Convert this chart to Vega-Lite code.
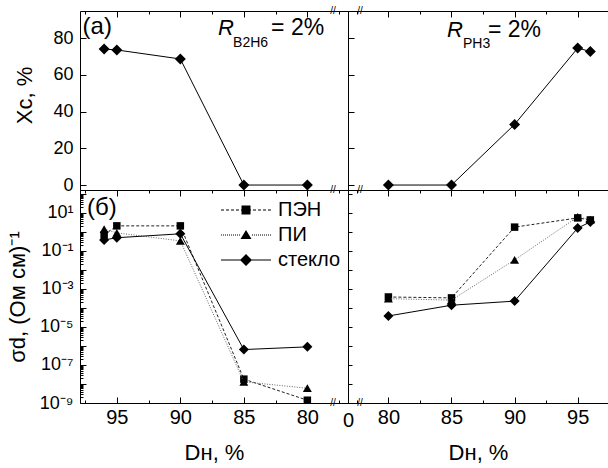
{
  "$schema": "https://vega.github.io/schema/vega-lite/v6.json",
  "background": "white",
  "padding": {"left": 5, "top": 5, "right": 0, "bottom": 0},
  "datasets": {
    "xc": [
      {"gas": "B2H6", "D": 96, "X": 74},
      {"gas": "B2H6", "D": 95, "X": 73.5},
      {"gas": "B2H6", "D": 90, "X": 68.6},
      {"gas": "B2H6", "D": 85, "X": 0},
      {"gas": "B2H6", "D": 80, "X": 0},
      {"gas": "PH3", "D": 80, "X": 0},
      {"gas": "PH3", "D": 85, "X": 0},
      {"gas": "PH3", "D": 90, "X": 33},
      {"gas": "PH3", "D": 95, "X": 74.5},
      {"gas": "PH3", "D": 96, "X": 72.7}
    ],
    "sig": [
      {"gas": "B2H6", "sub": "ПЭН", "D": 96, "s": 0.7},
      {"gas": "B2H6", "sub": "ПЭН", "D": 95, "s": 2.1},
      {"gas": "B2H6", "sub": "ПЭН", "D": 90, "s": 2.1},
      {"gas": "B2H6", "sub": "ПЭН", "D": 85, "s": 1.8e-8},
      {"gas": "B2H6", "sub": "ПЭН", "D": 80, "s": 1.4e-9},
      {"gas": "B2H6", "sub": "ПИ", "D": 96, "s": 1.4},
      {"gas": "B2H6", "sub": "ПИ", "D": 95, "s": 0.9},
      {"gas": "B2H6", "sub": "ПИ", "D": 90, "s": 0.34},
      {"gas": "B2H6", "sub": "ПИ", "D": 85, "s": 1.3e-8},
      {"gas": "B2H6", "sub": "ПИ", "D": 80, "s": 6e-9},
      {"gas": "B2H6", "sub": "стекло", "D": 96, "s": 0.38},
      {"gas": "B2H6", "sub": "стекло", "D": 95, "s": 0.5},
      {"gas": "B2H6", "sub": "стекло", "D": 90, "s": 0.8},
      {"gas": "B2H6", "sub": "стекло", "D": 85, "s": 6.5e-7},
      {"gas": "B2H6", "sub": "стекло", "D": 80, "s": 9e-7},
      {"gas": "PH3", "sub": "ПЭН", "D": 80, "s": 3.8e-4},
      {"gas": "PH3", "sub": "ПЭН", "D": 85, "s": 3.4e-4},
      {"gas": "PH3", "sub": "ПЭН", "D": 90, "s": 1.8},
      {"gas": "PH3", "sub": "ПЭН", "D": 95, "s": 5.5},
      {"gas": "PH3", "sub": "ПЭН", "D": 96, "s": 4.3},
      {"gas": "PH3", "sub": "ПИ", "D": 80, "s": 3.1e-4},
      {"gas": "PH3", "sub": "ПИ", "D": 85, "s": 2.6e-4},
      {"gas": "PH3", "sub": "ПИ", "D": 90, "s": 0.034},
      {"gas": "PH3", "sub": "ПИ", "D": 95, "s": 6.2},
      {"gas": "PH3", "sub": "ПИ", "D": 96, "s": 4.5},
      {"gas": "PH3", "sub": "стекло", "D": 80, "s": 3.8e-5},
      {"gas": "PH3", "sub": "стекло", "D": 85, "s": 1.4e-4},
      {"gas": "PH3", "sub": "стекло", "D": 90, "s": 2.3e-4},
      {"gas": "PH3", "sub": "стекло", "D": 95, "s": 1.6},
      {"gas": "PH3", "sub": "стекло", "D": 96, "s": 3.4}
    ]
  },
  "config": {
    "view": {"stroke": "black", "strokeWidth": 1},
    "font": "Liberation Sans",
    "axis": {
      "domain": false, "grid": false, "tickColor": "black", "labelColor": "black", "titleColor": "black",
      "labelFont": "Liberation Sans", "titleFont": "Liberation Sans", "titleFontWeight": "normal",
      "labelFlush": false, "labelOverlap": false, "tickWidth": 1
    },
    "text": {"font": "Liberation Sans", "color": "black"},
    "legend": {"labelFont": "Liberation Sans", "labelColor": "black"}
  },
  "columns": 2,
  "spacing": 0,
  "bounds": "flush",
  "concat": [
    {
      "width": 268, "height": 179,
      "data": {"name": "xc"},
      "transform": [{"filter": "datum.gas === 'B2H6'"}],
      "resolve": {"axis": {"x": "independent"}},
      "layer": [
        {
          "mark": {"type": "line", "color": "black", "strokeWidth": 1, "point": {"shape": "diamond", "filled": true, "size": 121, "color": "black", "opacity": 1}},
          "encoding": {
            "x": {"field": "D", "type": "quantitative", "scale": {"domain": [76.8, 97.9], "reverse": true, "nice": false, "zero": false},
              "axis": {"orient": "bottom", "values": [97.5, 95, 92.5, 90, 87.5, 85, 82.5, 80, 77.5], "labels": false, "title": null,
                "tickSize": {"condition": {"test": "datum.value % 5 === 0", "value": 6}, "value": 3}}},
            "y": {"field": "X", "type": "quantitative", "scale": {"domain": [-2.7, 94.7], "nice": false, "zero": false},
              "axis": {"values": [0, 10, 20, 30, 40, 50, 60, 70, 80, 90], "labelExpr": "datum.value % 20 === 0 ? datum.label : ''",
                "tickSize": {"condition": {"test": "datum.value % 20 === 0", "value": -6}, "value": -3},
                "labelFontSize": 18, "labelPadding": 13, "title": "Xc, %", "titleFontSize": 22, "titlePadding": 16, "titleY": 84}}
          }
        },
        {
          "mark": {"type": "point", "opacity": 0},
          "encoding": {
            "x": {"field": "D", "type": "quantitative",
              "axis": {"orient": "top", "values": [97.5, 95, 92.5, 90, 87.5, 85, 82.5, 80, 77.5], "labels": false, "title": null,
                "tickSize": {"condition": {"test": "datum.value % 5 === 0", "value": -6}, "value": -3}}},
            "y": {"field": "X", "type": "quantitative"}
          }
        },
        {
          "data": {"values": [{}]},
          "mark": {"type": "text", "align": "left", "baseline": "alphabetic", "fontSize": 24},
          "encoding": {"x": {"datum": 97.7, "axis": null}, "y": {"datum": 82}, "text": {"value": "(a)"}}
        },
        {
          "data": {"values": [{}]},
          "mark": {"type": "text", "align": "left", "baseline": "alphabetic", "fontSize": 22, "fontStyle": "italic"},
          "encoding": {"x": {"datum": 87.03, "axis": null}, "y": {"datum": 81.6}, "text": {"value": "R"}}
        },
        {
          "data": {"values": [{}]},
          "mark": {"type": "text", "align": "left", "baseline": "alphabetic", "fontSize": 14, "dx": 15, "dy": 12},
          "encoding": {"x": {"datum": 87.03, "axis": null}, "y": {"datum": 81.6}, "text": {"value": "B2H6"}}
        },
        {
          "data": {"values": [{}]},
          "mark": {"type": "text", "align": "left", "baseline": "alphabetic", "fontSize": 23, "dx": 53},
          "encoding": {"x": {"datum": 87.03, "axis": null}, "y": {"datum": 81.6}, "text": {"value": "= 2%"}}
        },
        {
          "data": {"values": [{}]},
          "mark": {"type": "text", "align": "center", "baseline": "middle", "fontSize": 10},
          "encoding": {"x": {"datum": 77.98, "axis": null}, "y": {"datum": 94.7}, "text": {"value": "//"}}
        },
        {
          "data": {"values": [{}]},
          "mark": {"type": "text", "align": "center", "baseline": "middle", "fontSize": 10},
          "encoding": {"x": {"datum": 77.98, "axis": null}, "y": {"datum": -2.7}, "text": {"value": "//"}}
        }
      ]
    },
    {
      "width": 260, "height": 179,
      "data": {"name": "xc"},
      "transform": [{"filter": "datum.gas === 'PH3'"}],
      "resolve": {"axis": {"x": "independent"}},
      "layer": [
        {
          "mark": {"type": "line", "color": "black", "strokeWidth": 1, "point": {"shape": "diamond", "filled": true, "size": 121, "color": "black", "opacity": 1}},
          "encoding": {
            "x": {"field": "D", "type": "quantitative", "scale": {"domain": [76.8, 97.4], "nice": false, "zero": false},
              "axis": {"orient": "bottom", "values": [77.5, 80, 82.5, 85, 87.5, 90, 92.5, 95], "labels": false, "title": null,
                "tickSize": {"condition": {"test": "datum.value % 5 === 0", "value": 6}, "value": 3}}},
            "y": {"field": "X", "type": "quantitative", "scale": {"domain": [-2.7, 94.7], "nice": false, "zero": false},
              "axis": {"values": [0, 10, 20, 30, 40, 50, 60, 70, 80, 90], "labels": false, "title": null,
                "tickSize": {"condition": {"test": "datum.value % 20 === 0", "value": -6}, "value": -3}}}
          }
        },
        {
          "mark": {"type": "point", "opacity": 0},
          "encoding": {
            "x": {"field": "D", "type": "quantitative",
              "axis": {"orient": "top", "values": [77.5, 80, 82.5, 85, 87.5, 90, 92.5, 95], "labels": false, "title": null,
                "tickSize": {"condition": {"test": "datum.value % 5 === 0", "value": -6}, "value": -3}}},
            "y": {"field": "X", "type": "quantitative"}
          }
        },
        {
          "data": {"values": [{}]},
          "mark": {"type": "text", "align": "left", "baseline": "alphabetic", "fontSize": 22, "fontStyle": "italic"},
          "encoding": {"x": {"datum": 84.64, "axis": null}, "y": {"datum": 80.5}, "text": {"value": "R"}}
        },
        {
          "data": {"values": [{}]},
          "mark": {"type": "text", "align": "left", "baseline": "alphabetic", "fontSize": 14, "dx": 16, "dy": 11},
          "encoding": {"x": {"datum": 84.64, "axis": null}, "y": {"datum": 80.5}, "text": {"value": "PH3"}}
        },
        {
          "data": {"values": [{}]},
          "mark": {"type": "text", "align": "left", "baseline": "alphabetic", "fontSize": 23, "dx": 41},
          "encoding": {"x": {"datum": 84.64, "axis": null}, "y": {"datum": 80.5}, "text": {"value": "= 2%"}}
        },
        {
          "data": {"values": [{}]},
          "mark": {"type": "text", "align": "center", "baseline": "middle", "fontSize": 10},
          "encoding": {"x": {"datum": 77.75, "axis": null}, "y": {"datum": 94.7}, "text": {"value": "//"}}
        },
        {
          "data": {"values": [{}]},
          "mark": {"type": "text", "align": "center", "baseline": "middle", "fontSize": 10},
          "encoding": {"x": {"datum": 77.75, "axis": null}, "y": {"datum": -2.7}, "text": {"value": "//"}}
        }
      ]
    },
    {
      "width": 268, "height": 213,
      "data": {"name": "sig"},
      "transform": [{"filter": "datum.gas === 'B2H6'"}],
      "resolve": {"axis": {"x": "independent", "y": "independent"}},
      "layer": [
        {
          "transform": [{"filter": "datum.sub === 'ПЭН'"}],
          "mark": {"type": "line", "color": "#222222", "strokeWidth": 1, "strokeDash": [3, 2], "point": {"shape": "square", "filled": true, "size": 56, "color": "black", "opacity": 1}},
          "encoding": {
            "x": {"field": "D", "type": "quantitative", "scale": {"domain": [76.8, 97.9], "reverse": true, "nice": false, "zero": false},
              "axis": {"orient": "bottom", "values": [97.5, 95, 92.5, 90, 87.5, 85, 82.5, 80, 77.5],
                "labelExpr": "datum.value % 5 === 0 ? datum.label : ''",
                "tickSize": {"condition": {"test": "datum.value % 5 === 0", "value": -6}, "value": -3},
                "labelFontSize": 20, "labelPadding": 10, "title": "Dн, %", "titleFontSize": 22, "titlePadding": 12}},
            "y": {"field": "s", "type": "quantitative", "scale": {"type": "log", "domain": [1e-9, 162], "nice": false},
              "axis": {"orient": "left", "values": [1e-9, 2e-9, 3e-9, 4e-9, 5e-9, 6e-9, 7e-9, 8e-9, 9e-9, 1e-8, 2e-8, 3e-8, 4e-8, 5e-8, 6e-8, 7e-8, 8e-8, 9e-8, 1e-7, 2e-7, 3e-7, 4e-7, 5e-7, 6e-7, 7e-7, 8e-7, 9e-7, 1e-6, 2e-6, 3e-6, 4e-6, 5e-6, 6e-6, 7e-6, 8e-6, 9e-6, 1e-5, 2e-5, 3e-5, 4e-5, 5e-5, 6e-5, 7e-5, 8e-5, 9e-5, 1e-4, 2e-4, 3e-4, 4e-4, 5e-4, 6e-4, 7e-4, 8e-4, 9e-4, 0.001, 0.002, 0.003, 0.004, 0.005, 0.006, 0.007, 0.008, 0.009, 0.01, 0.02, 0.03, 0.04, 0.05, 0.06, 0.07, 0.08, 0.09, 0.1, 0.2, 0.3, 0.4, 0.5, 0.6, 0.7, 0.8, 0.9, 1, 2, 3, 4, 5, 6, 7, 8, 9, 10, 20, 30, 40, 50, 60, 70, 80, 90, 100],
                "labelExpr": "abs(log(datum.value)/LN10-round(log(datum.value)/LN10))>0.001?'':round(log(datum.value)/LN10)==1?'10¹':round(log(datum.value)/LN10)==-1?'10⁻¹':round(log(datum.value)/LN10)==-3?'10⁻³':round(log(datum.value)/LN10)==-5?'10⁻⁵':round(log(datum.value)/LN10)==-7?'10⁻⁷':round(log(datum.value)/LN10)==-9?'10⁻⁹':''",
                "tickSize": {"condition": {"test": "abs(log(datum.value)/LN10-round(log(datum.value)/LN10))<0.001", "value": -6}, "value": -3},
                "labelFontSize": 18, "labelPadding": 13, "title": "σd, (Ом см)⁻¹", "titleFontSize": 22, "titlePadding": 10}}
          }
        },
        {
          "transform": [{"filter": "datum.sub === 'ПИ'"}],
          "mark": {"type": "line", "color": "#666666", "strokeWidth": 1, "strokeDash": [1, 1.5], "point": {"shape": "triangle-up", "filled": true, "size": 80, "color": "black", "opacity": 1}},
          "encoding": {"x": {"field": "D", "type": "quantitative", "axis": null}, "y": {"field": "s", "type": "quantitative", "axis": null}}
        },
        {
          "transform": [{"filter": "datum.sub === 'стекло'"}],
          "mark": {"type": "line", "color": "black", "strokeWidth": 1, "point": {"shape": "diamond", "filled": true, "size": 100, "color": "black", "opacity": 1}},
          "encoding": {"x": {"field": "D", "type": "quantitative", "axis": null}, "y": {"field": "s", "type": "quantitative", "axis": null}}
        },
        {
          "transform": [{"filter": "false"}],
          "mark": {"type": "point", "filled": true, "opacity": 1, "color": "black"},
          "encoding": {
            "x": {"field": "D", "type": "quantitative", "axis": null}, "y": {"field": "s", "type": "quantitative", "axis": null},
            "shape": {"field": "sub", "type": "nominal",
              "scale": {"domain": ["ПЭН", "ПИ", "стекло"], "range": [
                "M-5,-0.1H-4.4V0.1H-5ZM-4,-0.1H-3.4V0.1H-4ZM-3,-0.1H-2.4V0.1H-3ZM-2,-0.1H-1.4V0.1H-2ZM-1,-0.1H1V0.1H-1ZM1.4,-0.1H2V0.1H1.4ZM2.4,-0.1H3V0.1H2.4ZM3.4,-0.1H4V0.1H3.4ZM4.4,-0.1H5V0.1H4.4ZM-0.9,-0.9H0.9V0.9H-0.9Z",
                "M-5,-0.1H-4.8V0.1H-5ZM-4.6,-0.1H-4.4V0.1H-4.6ZM-4.2,-0.1H-4V0.1H-4.2ZM-3.8,-0.1H-3.6V0.1H-3.8ZM-3.4,-0.1H-3.2V0.1H-3.4ZM-3,-0.1H-2.8V0.1H-3ZM-2.6,-0.1H-2.4V0.1H-2.6ZM-2.2,-0.1H-2V0.1H-2.2ZM-1.8,-0.1H-1.6V0.1H-1.8ZM-1.4,-0.1H-1.2V0.1H-1.4ZM1.2,-0.1H1.4V0.1H1.2ZM1.6,-0.1H1.8V0.1H1.6ZM2,-0.1H2.2V0.1H2ZM2.4,-0.1H2.6V0.1H2.4ZM2.8,-0.1H3V0.1H2.8ZM3.2,-0.1H3.4V0.1H3.2ZM3.6,-0.1H3.8V0.1H3.6ZM4,-0.1H4.2V0.1H4ZM4.4,-0.1H4.6V0.1H4.4ZM4.8,-0.1H5V0.1H4.8ZM0,-1L1.1,0.8H-1.1Z",
                "M-5,-0.1H5V0.1H-5ZM0,-1.2L1.2,0L0,1.2L-1.2,0Z"]},
              "legend": {"orient": "none", "legendX": 156, "legendY": 189, "title": null, "labelFontSize": 20, "symbolSize": 100,
                "symbolFillColor": "black", "symbolStrokeWidth": 0, "labelOffset": 22, "rowPadding": 5, "padding": 0,
                "encode": {"symbols": {"update": {"fill": {"value": "black"}, "opacity": {"value": 1}, "fillOpacity": {"value": 1}}}}}}
          }
        },
        {
          "data": {"values": [{}]},
          "mark": {"type": "text", "align": "left", "baseline": "alphabetic", "fontSize": 24},
          "encoding": {"x": {"datum": 97.35, "axis": null}, "y": {"datum": 7.8, "axis": null}, "text": {"value": "(б)"}}
        },
        {
          "data": {"values": [{}]},
          "mark": {"type": "text", "align": "center", "baseline": "middle", "fontSize": 10},
          "encoding": {"x": {"datum": 77.98, "axis": null}, "y": {"datum": 1e-9, "axis": null}, "text": {"value": "//"}}
        }
      ]
    },
    {
      "width": 260, "height": 213,
      "data": {"name": "sig"},
      "transform": [{"filter": "datum.gas === 'PH3'"}],
      "resolve": {"axis": {"x": "independent", "y": "independent"}},
      "layer": [
        {
          "transform": [{"filter": "datum.sub === 'ПЭН'"}],
          "mark": {"type": "line", "color": "#222222", "strokeWidth": 1, "strokeDash": [3, 2], "point": {"shape": "square", "filled": true, "size": 56, "color": "black", "opacity": 1}},
          "encoding": {
            "x": {"field": "D", "type": "quantitative", "scale": {"domain": [76.8, 97.4], "nice": false, "zero": false},
              "axis": {"orient": "bottom", "values": [76.8, 77.5, 80, 82.5, 85, 87.5, 90, 92.5, 95],
                "labelExpr": "datum.value < 77 ? '0' : (datum.value % 5 === 0 ? datum.label : '')",
                "tickSize": {"condition": {"test": "datum.value % 5 === 0", "value": -6}, "value": -3},
                "labelFontSize": 20, "labelPadding": 10, "title": "Dн, %", "titleFontSize": 22, "titlePadding": 12}},
            "y": {"field": "s", "type": "quantitative", "scale": {"type": "log", "domain": [1e-9, 162], "nice": false},
              "axis": {"orient": "left", "values": [1e-9, 1e-8, 1e-7, 1e-6, 1e-5, 1e-4, 0.001, 0.01, 0.1, 1, 10, 100], "labels": false, "title": null, "tickSize": -4}}
          }
        },
        {
          "transform": [{"filter": "datum.sub === 'ПИ'"}],
          "mark": {"type": "line", "color": "#666666", "strokeWidth": 1, "strokeDash": [1, 1.5], "point": {"shape": "triangle-up", "filled": true, "size": 80, "color": "black", "opacity": 1}},
          "encoding": {"x": {"field": "D", "type": "quantitative", "axis": null}, "y": {"field": "s", "type": "quantitative", "axis": null}}
        },
        {
          "transform": [{"filter": "datum.sub === 'стекло'"}],
          "mark": {"type": "line", "color": "black", "strokeWidth": 1, "point": {"shape": "diamond", "filled": true, "size": 100, "color": "black", "opacity": 1}},
          "encoding": {"x": {"field": "D", "type": "quantitative", "axis": null}, "y": {"field": "s", "type": "quantitative", "axis": null}}
        },
        {
          "data": {"values": [{}]},
          "mark": {"type": "text", "align": "center", "baseline": "middle", "fontSize": 10},
          "encoding": {"x": {"datum": 77.75, "axis": null}, "y": {"datum": 1e-9, "axis": null}, "text": {"value": "//"}}
        }
      ]
    }
  ]
}
